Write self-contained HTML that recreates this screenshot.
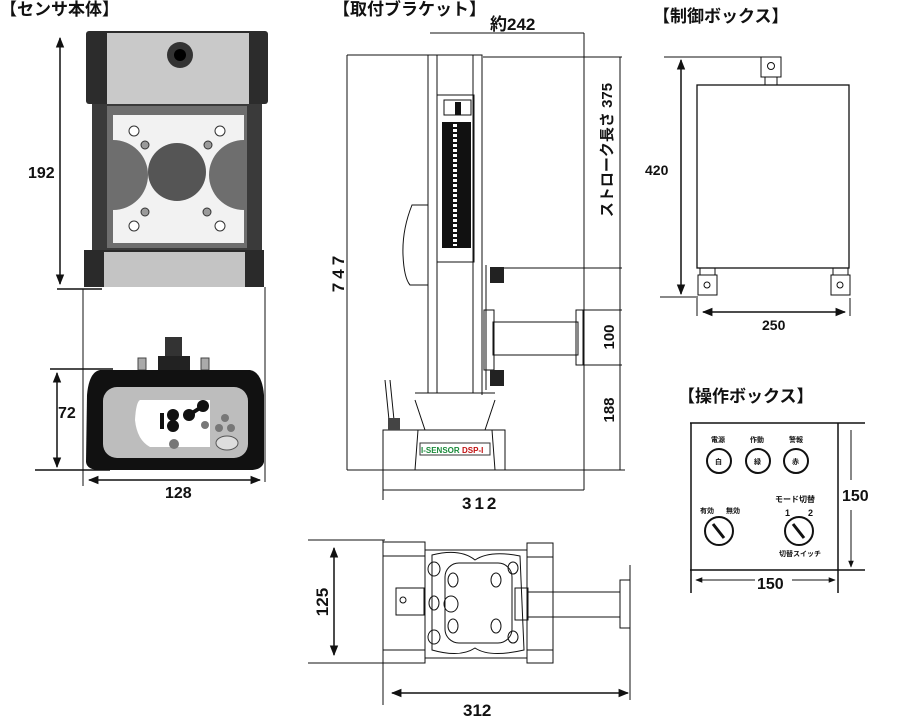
<!DOCTYPE html>
<html><head><meta charset="utf-8"><style>
body{margin:0;background:#fff}
svg text{font-family:"Liberation Sans","Noto Sans CJK JP",sans-serif;font-weight:bold;fill:#111}
</style></head><body>
<svg width="900" height="717" viewBox="0 0 900 717" xmlns="http://www.w3.org/2000/svg">
<defs>
<marker id="a" viewBox="0 0 10 10" refX="9" refY="5" markerWidth="7" markerHeight="7" orient="auto-start-reverse"><path d="M0,1 L10,5 L0,9z" fill="#111"/></marker>
</defs>
<!-- titles -->
<text x="0" y="15" font-size="17">【センサ本体】</text>
<text x="333" y="15" font-size="17">【取付ブラケット】</text>
<text x="490" y="30" font-size="17">約242</text>
<text x="653" y="22" font-size="17">【制御ボックス】</text>
<text x="678" y="402" font-size="17">【操作ボックス】</text>

<!-- SENSOR BODY -->
<g stroke="#111" fill="none">
<line x1="60" y1="38" x2="60" y2="284" stroke-width="1.5" marker-start="url(#a)" marker-end="url(#a)"/>
<line x1="57" y1="289" x2="102" y2="289" stroke-width="1.5"/>
<line x1="83" y1="289" x2="83" y2="486"/>
<line x1="265" y1="287" x2="265" y2="482"/>
</g>
<text x="28" y="178" font-size="16">192</text>
<rect x="92" y="102" width="170" height="152" fill="#3a3a3a"/>
<rect x="86" y="31" width="182" height="73" rx="3" fill="#2c2c2c"/>
<rect x="107" y="33" width="142" height="71" fill="#c9c9c9"/>
<circle cx="180" cy="55" r="13" fill="#333"/><circle cx="180" cy="55" r="6" fill="#000"/>
<rect x="107" y="106" width="140" height="142" fill="#6e6e6e"/>
<path d="M113,115 H244 V140 A34,34 0 0 0 244,210 V243 H113 V210 A34,34 0 0 0 113,140Z" fill="#f2f2f2"/>
<circle cx="177" cy="172" r="29" fill="#555"/>
<g fill="#9a9a9a" stroke="#333"><circle cx="145" cy="145" r="4"/><circle cx="208" cy="145" r="4"/><circle cx="145" cy="212" r="4"/><circle cx="207" cy="212" r="4"/><circle cx="134" cy="131" r="5" fill="#fff"/><circle cx="220" cy="131" r="5" fill="#fff"/><circle cx="134" cy="226" r="5" fill="#fff"/><circle cx="220" cy="226" r="5" fill="#fff"/></g>
<rect x="84" y="250" width="180" height="37" fill="#2a2a2a"/>
<rect x="104" y="252" width="141" height="35" fill="#c4c4c4"/>
<!-- bottom view -->
<rect x="165" y="337" width="17" height="22" fill="#333"/>
<rect x="158" y="356" width="32" height="14" fill="#222"/>
<rect x="138" y="358" width="8" height="12" fill="#aaa" stroke="#444"/><rect x="201" y="358" width="8" height="12" fill="#aaa" stroke="#444"/>
<path d="M100,370 H250 Q262,372 264,395 L264,462 Q262,470 250,470 H100 Q87,470 86,462 L87,395 Q89,372 100,370Z" fill="#111"/>
<rect x="103" y="387" width="145" height="71" rx="14" fill="#bdbdbd"/>
<path d="M140,400 H210 V447 H150 Q137,440 135,420 Q136,402 140,400Z" fill="#fff"/>
<g fill="#111"><circle cx="173" cy="415" r="6"/><circle cx="173" cy="426" r="6"/><circle cx="189" cy="415" r="6"/><circle cx="203" cy="406" r="6"/><rect x="160" y="413" width="4" height="16"/></g>
<line x1="189" y1="415" x2="203" y2="406" stroke="#111" stroke-width="4"/>
<g fill="#777"><circle cx="205" cy="425" r="4"/><circle cx="225" cy="418" r="4"/><circle cx="219" cy="428" r="4"/><circle cx="231" cy="428" r="4"/><circle cx="174" cy="444" r="5"/></g>
<ellipse cx="227" cy="443" rx="11" ry="7" fill="#ddd" stroke="#555"/>
<g stroke="#111" stroke-width="1.5" fill="none">
<line x1="50" y1="369" x2="113" y2="369"/><line x1="35" y1="470" x2="110" y2="470"/>
<line x1="57" y1="373" x2="57" y2="467" marker-start="url(#a)" marker-end="url(#a)"/>
<line x1="89" y1="480" x2="260" y2="480" marker-start="url(#a)" marker-end="url(#a)"/>
</g>
<text x="58" y="418" font-size="16">72</text>
<text x="165" y="498" font-size="16">128</text>

<!-- BRACKET -->
<g stroke="#111" fill="none">
<line x1="430" y1="33" x2="584" y2="33"/>
<line x1="584" y1="33" x2="584" y2="490"/>
<line x1="347" y1="55" x2="432" y2="55"/>
<line x1="347" y1="55" x2="347" y2="470"/>
<line x1="347" y1="470" x2="625" y2="470"/>
<line x1="483" y1="57" x2="622" y2="57"/>
<line x1="620" y1="57" x2="620" y2="470"/>
<line x1="500" y1="268" x2="622" y2="268"/>
<line x1="583" y1="310" x2="622" y2="310"/>
<line x1="583" y1="365" x2="622" y2="365"/>
<line x1="383" y1="470" x2="383" y2="500"/>
<line x1="383" y1="490" x2="584" y2="490"/>
<rect x="428" y="55" width="54" height="338"/>
<line x1="437" y1="55" x2="437" y2="393"/><line x1="473" y1="55" x2="473" y2="393"/>
<rect x="437" y="95" width="37" height="167"/>
<path d="M428,205 H412 Q402,230 403,255 Q404,278 410,285 H428"/>
<line x1="482" y1="265" x2="482" y2="395"/><line x1="486" y1="265" x2="486" y2="390"/>
<rect x="493" y="322" width="85" height="33"/>
<rect x="576" y="310" width="7" height="55"/>
<rect x="484" y="310" width="10" height="60"/>
<line x1="390" y1="380" x2="395" y2="430"/><line x1="385" y1="380" x2="390" y2="430"/>
<path d="M415,400 L425,430 H485 L495,400"/>
<line x1="415" y1="393" x2="495" y2="393"/>
<rect x="383" y="430" width="122" height="40"/>
<path d="M418,430 L415,470 M492,430 L495,470"/>
</g>
<rect x="442" y="122" width="29" height="126" fill="#111"/>
<line x1="455" y1="124" x2="455" y2="246" stroke="#fff" stroke-width="4" stroke-dasharray="3,2"/>
<rect x="444" y="100" width="27" height="15" fill="#fff" stroke="#111"/>
<rect x="455" y="102" width="6" height="13" fill="#111"/>
<rect x="490" y="267" width="14" height="16" fill="#222"/>
<rect x="490" y="370" width="14" height="16" fill="#222"/>
<rect x="388" y="418" width="12" height="12" fill="#444"/>
<rect x="420" y="443" width="70" height="12" fill="#fff" stroke="#333"/>
<text x="421" y="453" font-size="8" style="fill:#1a8a3a">I-SENSOR</text>
<text x="462" y="453" font-size="8" style="fill:#c01010">DSP-I</text>
<text transform="translate(344,272) rotate(-90)" font-size="17" text-anchor="middle" letter-spacing="4">747</text>
<text transform="translate(612,150) rotate(-90)" font-size="15" text-anchor="middle">ストローク長さ 375</text>
<text transform="translate(614,337) rotate(-90)" font-size="15" text-anchor="middle">100</text>
<text transform="translate(614,410) rotate(-90)" font-size="15" text-anchor="middle">188</text>
<text x="462" y="509" font-size="17" letter-spacing="3">312</text>

<!-- TOP VIEW -->
<g stroke="#111" fill="none">
<line x1="308" y1="540" x2="385" y2="540"/><line x1="308" y1="663" x2="385" y2="663"/>
<line x1="334" y1="548" x2="334" y2="655" stroke-width="1.5" marker-start="url(#a)" marker-end="url(#a)"/>
<line x1="383" y1="540" x2="383" y2="705"/>
<line x1="630" y1="565" x2="630" y2="700"/>
<line x1="392" y1="693" x2="628" y2="693" stroke-width="1.5" marker-start="url(#a)" marker-end="url(#a)"/>
<rect x="383" y="542" width="42" height="121"/><line x1="383" y1="556" x2="425" y2="556"/><line x1="383" y1="650" x2="425" y2="650"/>
<rect x="396" y="588" width="28" height="27"/><circle cx="403" cy="600" r="3"/>
<rect x="425" y="550" width="102" height="108"/>
<path d="M432,555 Q460,548 475,560 Q490,550 520,556 L524,650 Q490,658 475,648 Q460,658 432,650Z"/>
<rect x="445" y="563" width="67" height="80" rx="14"/>
<rect x="527" y="543" width="26" height="120"/><line x1="527" y1="557" x2="553" y2="557"/><line x1="527" y1="650" x2="553" y2="650"/>
<rect x="515" y="588" width="13" height="32"/>
<rect x="528" y="592" width="92" height="25"/>
<rect x="620" y="580" width="10" height="48"/>
<ellipse cx="453" cy="580" rx="5" ry="7"/><ellipse cx="496" cy="580" rx="5" ry="7"/>
<ellipse cx="453" cy="626" rx="5" ry="7"/><ellipse cx="496" cy="626" rx="5" ry="7"/>
<ellipse cx="434" cy="603" rx="5" ry="7"/><ellipse cx="451" cy="604" rx="7" ry="8"/>
<ellipse cx="434" cy="569" rx="6" ry="7"/><ellipse cx="434" cy="637" rx="6" ry="7"/>
<ellipse cx="513" cy="568" rx="5" ry="6"/><ellipse cx="513" cy="637" rx="5" ry="6"/>
</g>
<text transform="translate(328,602) rotate(-90)" font-size="17" text-anchor="middle">125</text>
<text x="463" y="716" font-size="17">312</text>

<!-- CONTROL BOX -->
<g stroke="#111" fill="none">
<rect x="697" y="85" width="152" height="183" stroke-width="1.3"/>
<rect x="761" y="57" width="20" height="20"/><circle cx="771" cy="66" r="3.5"/>
<rect x="765" y="77" width="12" height="8"/>
<rect x="698" y="275" width="19" height="20"/><circle cx="707" cy="285" r="3"/><rect x="700" y="268" width="15" height="7"/>
<rect x="831" y="275" width="19" height="20"/><circle cx="840" cy="285" r="3"/><rect x="833" y="268" width="15" height="7"/>
<line x1="664" y1="57" x2="761" y2="57"/><line x1="660" y1="297" x2="698" y2="297"/>
<line x1="681" y1="60" x2="681" y2="294" stroke-width="1.5" marker-start="url(#a)" marker-end="url(#a)"/>
<line x1="697" y1="298" x2="697" y2="316"/><line x1="850" y1="298" x2="850" y2="316"/>
<line x1="703" y1="312" x2="845" y2="312" stroke-width="1.5" marker-start="url(#a)" marker-end="url(#a)"/>
</g>
<text x="645" y="175" font-size="14">420</text>
<text x="762" y="330" font-size="14">250</text>

<!-- OPERATION BOX -->
<g stroke="#111" fill="none">
<line x1="690" y1="423" x2="865" y2="423" stroke-width="1.5"/>
<line x1="691" y1="423" x2="691" y2="593" stroke-width="1.5"/>
<line x1="838" y1="423" x2="838" y2="593" stroke-width="1.5"/>
<line x1="690" y1="570" x2="865" y2="570" stroke-width="1.5"/>
<line x1="851" y1="430" x2="851" y2="567" marker-end="url(#a)"/>
<line x1="696" y1="580" x2="755" y2="580" marker-start="url(#a)"/>
<line x1="792" y1="580" x2="835" y2="580" marker-end="url(#a)"/>
<g stroke-width="2"><circle cx="719" cy="461" r="12"/><circle cx="758" cy="461" r="12"/><circle cx="796" cy="461" r="12"/>
<circle cx="719" cy="531" r="14"/><circle cx="799" cy="531" r="14"/></g>
<line x1="713" y1="524" x2="724" y2="538" stroke-width="3"/>
<line x1="793" y1="524" x2="804" y2="538" stroke-width="3"/>
</g>
<rect x="846" y="480" width="12" height="30" fill="#fff"/>
<text x="842" y="501" font-size="16">150</text>
<text x="757" y="589" font-size="16">150</text>
<g font-size="7"><text x="711" y="442">電源</text><text x="750" y="442">作動</text><text x="789" y="442">警報</text>
<text x="715" y="464">白</text><text x="754" y="464">緑</text><text x="792" y="464">赤</text>
<text x="700" y="513">有効</text><text x="726" y="513">無効</text>
<text x="779" y="556">切替スイッチ</text></g>
<text x="775" y="502" font-size="8">モード切替</text>
<text x="785" y="516" font-size="9">1</text><text x="808" y="516" font-size="9">2</text>
</svg>
</body></html>
